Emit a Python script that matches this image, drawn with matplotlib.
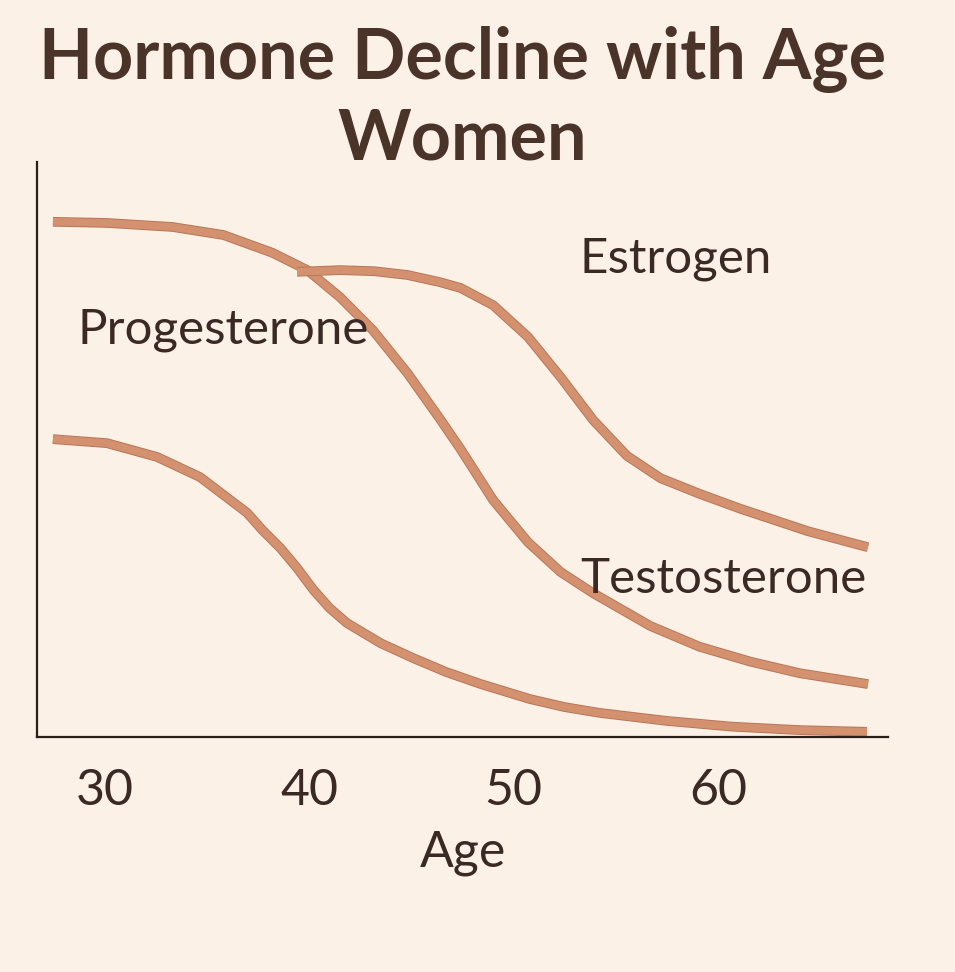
import matplotlib
matplotlib.use("Agg")
import matplotlib.pyplot as plt
import matplotlib.patheffects as pe

# Werte (Alter, relative Höhe 0-100)
age_a = [27.45, 30.1, 33.3, 35.8, 38.2, 39.9, 41.5, 43.1, 44.8, 46.4, 47.4, 49.0, 50.7, 52.3, 53.9, 56.7, 59.1, 61.6, 64.0, 67.35]
level_a = [89.6, 89.4, 88.7, 87.3, 84.2, 81.2, 76.5, 70.8, 63.3, 55.3, 50.1, 41.2, 33.9, 28.7, 25.0, 19.3, 15.7, 13.1, 11.1, 9.2]

age_b = [39.4, 41.5, 43.2, 44.8, 46.4, 47.4, 49.0, 50.7, 52.3, 53.9, 55.55, 57.2, 59.1, 61.1, 64.4, 67.35]
level_b = [80.9, 81.2, 81.0, 80.35, 79.1, 78.1, 75.1, 69.6, 62.6, 55.1, 48.9, 45.0, 42.3, 39.7, 35.8, 33.0]

age_c = [27.45, 30.1, 32.55, 34.65, 36.95, 37.7, 38.6, 39.4, 40.2, 41.0, 41.85, 43.5, 45.1, 46.7, 48.4, 50.8, 52.5, 54.2, 57.5, 60.7, 64.0, 67.3]
level_c = [51.8, 51.1, 48.7, 45.2, 39.0, 36.0, 32.8, 29.4, 25.6, 22.4, 19.8, 16.3, 13.7, 11.3, 9.2, 6.6, 5.2, 4.2, 2.8, 1.8, 1.2, 0.9]

labels = ["Estrogen", "Progesterone", "Testosterone"]
label_x = [53.25, 28.65, 53.25]
label_y = [80.7, 68.5, 25.0]

x_ticks = [30, 40, 50, 60]

bg = "#fcf1e7"
line_col = "#d4916f"
edge_col = "#b87656"
text_col = "#3a2924"
title_col = "#4a3329"

plt.rcParams["font.family"] = ["Lato", "DejaVu Sans"]

fig = plt.figure(figsize=(9.55, 9.72), dpi=100, facecolor=bg)
ax = fig.add_axes([37 / 955, 1 - 737 / 972, (888 - 37) / 955, (737 - 162) / 972])
ax.set_facecolor(bg)

effects = [pe.Stroke(linewidth=7.0, foreground=edge_col), pe.Normal()]
for xs, ys in [(age_a, level_a), (age_b, level_b), (age_c, level_c)]:
    ax.plot(xs, ys, color=line_col, linewidth=5.6, solid_capstyle="butt",
            solid_joinstyle="round", path_effects=effects)

for txt, x, y in zip(labels, label_x, label_y):
    ax.text(x, y, txt, fontsize=35.5, color=text_col, ha="left", va="baseline")

ax.set_xlim(26.67, 68.33)
ax.set_ylim(0, 100)
ax.set_xticks(x_ticks)
ax.set_xticklabels([str(t) for t in x_ticks])
ax.set_yticks([])
ax.tick_params(axis="x", length=0, pad=22, labelsize=36, labelcolor=text_col)
for s in ["top", "right"]:
    ax.spines[s].set_visible(False)
for s in ["left", "bottom"]:
    ax.spines[s].set_color("#2a1f1b")
    ax.spines[s].set_linewidth(1.6)
ax.set_xlabel("Age", fontsize=36, color=text_col, labelpad=12)

fig.text(0.4843, 1 - 79 / 972, "Hormone Decline with Age", fontsize=50.5, fontweight="bold",
         color=title_col, ha="center", va="baseline")
fig.text(0.4843, 1 - 159 / 972, "Women", fontsize=50.5, fontweight="bold",
         color=title_col, ha="center", va="baseline")

fig.savefig("out.png", dpi=100, facecolor=bg)
